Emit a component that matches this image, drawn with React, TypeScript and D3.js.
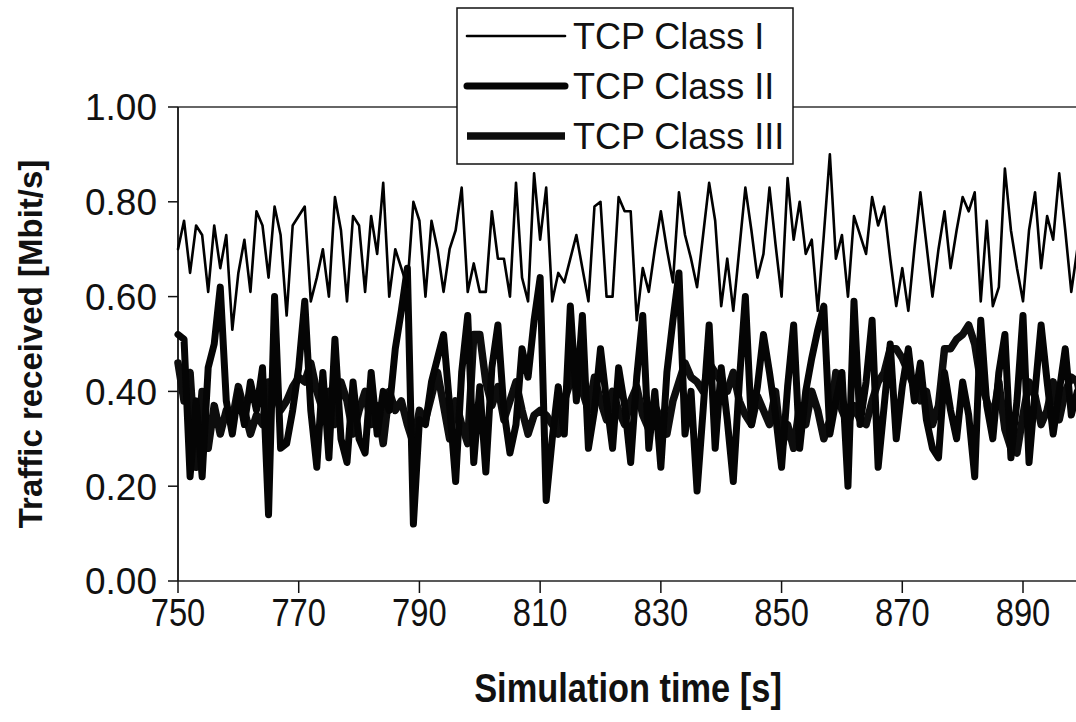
import React, { useLayoutEffect } from "react";
import * as d3 from "d3";

const startTime = 750;
const classI = [
  0.70, 0.76, 0.65, 0.75, 0.73, 0.61, 0.75, 0.66, 0.73, 0.53,
  0.65, 0.72, 0.61, 0.78, 0.75, 0.64, 0.79, 0.73, 0.56, 0.75,
  0.77, 0.79, 0.59, 0.64, 0.70, 0.60, 0.81, 0.74, 0.59, 0.77,
  0.75, 0.61, 0.77, 0.69, 0.84, 0.60, 0.70, 0.66, 0.62, 0.80,
  0.76, 0.60, 0.76, 0.70, 0.61, 0.70, 0.74, 0.83, 0.61, 0.67,
  0.61, 0.61, 0.78, 0.68, 0.68, 0.60, 0.84, 0.64, 0.59, 0.86,
  0.72, 0.83, 0.59, 0.65, 0.63, 0.68, 0.73, 0.66, 0.59, 0.79,
  0.80, 0.60, 0.60, 0.81, 0.78, 0.78, 0.55, 0.66, 0.61, 0.70,
  0.78, 0.70, 0.63, 0.82, 0.73, 0.68, 0.62, 0.73, 0.84, 0.76,
  0.58, 0.68, 0.57, 0.70, 0.83, 0.74, 0.64, 0.69, 0.83, 0.71,
  0.60, 0.85, 0.72, 0.80, 0.69, 0.72, 0.57, 0.73, 0.90, 0.68,
  0.73, 0.60, 0.77, 0.73, 0.69, 0.81, 0.75, 0.79, 0.68, 0.58,
  0.66, 0.57, 0.70, 0.82, 0.71, 0.60, 0.70, 0.78, 0.66, 0.74,
  0.81, 0.78, 0.82, 0.59, 0.76, 0.58, 0.62, 0.87, 0.74, 0.66,
  0.59, 0.74, 0.82, 0.66, 0.77, 0.72, 0.86, 0.74, 0.61, 0.70,
  0.76,
];
const classII = [
  0.52, 0.51, 0.22, 0.38, 0.22, 0.45, 0.50, 0.62, 0.38, 0.31,
  0.40, 0.33, 0.42, 0.36, 0.45, 0.14, 0.60, 0.28, 0.29, 0.36,
  0.45, 0.59, 0.36, 0.24, 0.44, 0.26, 0.51, 0.30, 0.25, 0.42,
  0.30, 0.27, 0.44, 0.31, 0.40, 0.36, 0.49, 0.57, 0.66, 0.12,
  0.34, 0.33, 0.42, 0.47, 0.52, 0.37, 0.21, 0.44, 0.56, 0.25,
  0.41, 0.23, 0.45, 0.54, 0.36, 0.27, 0.33, 0.49, 0.43, 0.55,
  0.64, 0.17, 0.30, 0.41, 0.31, 0.58, 0.38, 0.56, 0.28, 0.36,
  0.49, 0.38, 0.28, 0.45, 0.37, 0.25, 0.43, 0.56, 0.28, 0.40,
  0.24, 0.44, 0.55, 0.65, 0.31, 0.40, 0.19, 0.36, 0.54, 0.28,
  0.45, 0.34, 0.21, 0.42, 0.60, 0.33, 0.41, 0.52, 0.44, 0.35,
  0.24, 0.41, 0.54, 0.28, 0.40, 0.47, 0.53, 0.58, 0.31, 0.38,
  0.44, 0.20, 0.59, 0.33, 0.42, 0.55, 0.24, 0.37, 0.50, 0.30,
  0.41, 0.49, 0.38, 0.46, 0.34, 0.28, 0.26, 0.44, 0.36, 0.30,
  0.42, 0.35, 0.22, 0.55, 0.37, 0.30, 0.44, 0.52, 0.26, 0.38,
  0.56, 0.25, 0.40, 0.54, 0.42, 0.31, 0.40, 0.49, 0.35, 0.40,
  0.38,
];
const classIII = [
  0.46, 0.38, 0.44, 0.24, 0.40, 0.28, 0.37, 0.31, 0.36, 0.34,
  0.41, 0.36, 0.31, 0.35, 0.33, 0.42, 0.40, 0.36, 0.38, 0.41,
  0.43, 0.42, 0.46, 0.40, 0.36, 0.40, 0.33, 0.42, 0.38, 0.31,
  0.36, 0.40, 0.33, 0.37, 0.29, 0.40, 0.36, 0.38, 0.33, 0.29,
  0.36, 0.34, 0.39, 0.44, 0.37, 0.30, 0.38, 0.33, 0.29, 0.52,
  0.52, 0.42, 0.37, 0.41, 0.34, 0.38, 0.42, 0.36, 0.31, 0.35,
  0.36, 0.35, 0.33, 0.31, 0.38, 0.42, 0.46, 0.40, 0.36, 0.43,
  0.38, 0.34, 0.40, 0.36, 0.33, 0.38, 0.41, 0.35, 0.32, 0.37,
  0.34, 0.31, 0.38, 0.42, 0.46, 0.43, 0.42, 0.40, 0.46, 0.44,
  0.42, 0.40, 0.44, 0.38, 0.35, 0.33, 0.39, 0.36, 0.33, 0.40,
  0.28, 0.33, 0.28, 0.37, 0.33, 0.40, 0.36, 0.30, 0.34, 0.44,
  0.36, 0.33, 0.37, 0.34, 0.33, 0.38, 0.42, 0.44, 0.49, 0.49,
  0.47, 0.44, 0.41, 0.38, 0.40, 0.33, 0.37, 0.49, 0.49, 0.51,
  0.52, 0.54, 0.50, 0.42, 0.38, 0.34, 0.42, 0.32, 0.28, 0.27,
  0.35, 0.42, 0.39, 0.33, 0.36, 0.42, 0.34, 0.40, 0.43, 0.42,
  0.36,
];
const xTicks = [750, 770, 790, 810, 830, 850, 870, 890];
const yTicks = [0, 0.2, 0.4, 0.6, 0.8, 1.0];
const seriesNames = ["TCP Class I", "TCP Class II", "TCP Class III"];

const W = 1076;
const H = 722;
const left = 178;
const top = 107;
const bottom = 581;

export default function App() {
  useLayoutEffect(() => {
    document.body.style.margin = "0";
  }, []);

  const x = d3.scaleLinear().domain([750, 890]).range([left, 1023]);
  const y = d3.scaleLinear().domain([0, 1]).range([bottom, top]);

  const series = [
    { name: seriesNames[0], values: classI, width: 2.6, color: "#000" },
    { name: seriesNames[1], values: classII, width: 7, color: "#050505" },
    { name: seriesNames[2], values: classIII, width: 7.5, color: "#0d0d0d" },
  ];

  const line = d3
    .line<number>()
    .x((_, i) => x(startTime + i))
    .y((d) => y(d));

  const font = "'Liberation Sans', Arial, sans-serif";

  const legendRows = [36, 86, 136];

  return (
    <svg width={W} height={H} style={{ display: "block", background: "#fff" }} fontFamily={font}>
      {/* plot frame */}
      <line x1={left} x2={W} y1={top} y2={top} stroke="#333" strokeWidth={1.5} />
      <line x1={left} x2={W} y1={bottom} y2={bottom} stroke="#222" strokeWidth={1.5} />
      <line x1={left} x2={left} y1={top} y2={bottom} stroke="#111" strokeWidth={1.8} />

      {/* series */}
      {series
        .slice()
        .reverse()
        .map((s) => (
          <path
            key={s.name}
            d={line(s.values) || ""}
            fill="none"
            stroke={s.color}
            strokeWidth={s.width}
            strokeLinejoin="round"
            strokeLinecap="round"
          />
        ))}

      {/* y axis ticks */}
      {yTicks.map((t) => (
        <g key={t}>
          <line x1={left - 10} x2={left} y1={y(t)} y2={y(t)} stroke="#111" strokeWidth={1.5} />
          <text x={157} y={y(t)} dy="0.36em" textAnchor="end" fontSize={37} fill="#111">
            {t.toFixed(2)}
          </text>
        </g>
      ))}

      {/* x axis ticks */}
      {xTicks.map((t) => (
        <g key={t}>
          <line x1={x(t)} x2={x(t)} y1={bottom} y2={bottom + 12} stroke="#111" strokeWidth={1.5} />
          <text
            transform={`translate(${x(t)},${626}) scale(0.84,1)`}
            textAnchor="middle"
            fontSize={39}
            fill="#111"
          >
            {t}
          </text>
        </g>
      ))}

      {/* axis titles */}
      <text
        transform={`translate(628,702) scale(0.86,1)`}
        textAnchor="middle"
        fontSize={40}
        fontWeight="bold"
        fill="#111"
      >
        Simulation time [s]
      </text>
      <text
        transform={`translate(42,344) rotate(-90)`}
        textAnchor="middle"
        fontSize={33}
        fontWeight="bold"
        fill="#111"
      >
        Traffic received [Mbit/s]
      </text>

      {/* legend */}
      <rect x={457} y={8} width={336} height={156} fill="#fff" stroke="#111" strokeWidth={1.5} />
      {series.map((s, i) => (
        <g key={s.name}>
          <line
            x1={467}
            x2={565}
            y1={legendRows[i]}
            y2={legendRows[i]}
            stroke={s.color}
            strokeWidth={s.width}
            strokeLinecap={i === 2 ? "butt" : "round"}
          />
          <text x={573} y={legendRows[i]} dy="0.36em" fontSize={36} fill="#111">
            {s.name}
          </text>
        </g>
      ))}
    </svg>
  );
}
